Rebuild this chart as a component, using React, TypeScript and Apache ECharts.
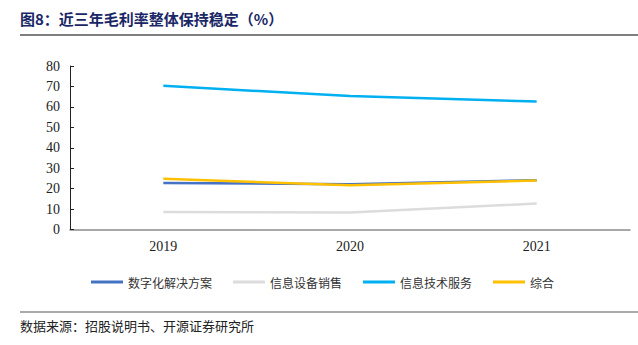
import React, { useEffect, useRef } from "react";
import * as echarts from "echarts";

const categories = ["2019", "2020", "2021"];
const seriesNames = ["数字化解决方案", "信息设备销售", "信息技术服务", "综合"];
const digitalSolutions = [22.8, 22.2, 24.1];
const equipmentSales = [8.6, 8.3, 12.7];
const itServices = [70.3, 65.3, 62.6];
const overall = [24.8, 21.6, 24.0];
const seriesColors = ["#4472C4", "#DCDCDC", "#00B0F0", "#FFC000"];
const yTicks = { min: 0, max: 80, interval: 10 };

const titleText = "图8：近三年毛利率整体保持稳定（%）";
const sourceText = "数据来源：招股说明书、开源证券研究所";

export default function App() {
  const ref = useRef<HTMLDivElement>(null);
  useEffect(() => {
    document.body.style.margin = "0";
    const chart = echarts.init(ref.current!, undefined, { renderer: "svg" });
    const data = [digitalSolutions, equipmentSales, itServices, overall];
    chart.setOption({
      animation: false,
      backgroundColor: "#ffffff",
      grid: { left: 70, right: 8, top: 66, bottom: 115.5, containLabel: false },
      legend: {
        left: 86,
        top: 271,
        itemWidth: 32,
        itemHeight: 3,
        itemGap: 21,
        icon: "rect",
        textStyle: { fontFamily: "Noto Sans CJK SC", fontSize: 12, color: "#333" },
        data: seriesNames,
      },
      xAxis: {
        type: "category",
        data: categories,
        boundaryGap: true,
        axisLine: { lineStyle: { color: "#8c8c8c", width: 1.5 } },
        axisTick: { inside: true, length: 4, lineStyle: { color: "#555" } },
        axisLabel: { fontFamily: "Liberation Serif", fontSize: 14, color: "#222", margin: 10 },
      },
      yAxis: {
        type: "value",
        min: yTicks.min,
        max: yTicks.max,
        interval: yTicks.interval,
        axisLine: { show: true, lineStyle: { color: "#222", width: 1 } },
        axisTick: { show: true, inside: true, length: 4, lineStyle: { color: "#222" } },
        splitLine: { show: false },
        axisLabel: { fontFamily: "Liberation Serif", fontSize: 14, color: "#222", margin: 10 },
      },
      series: seriesNames.map((name, i) => ({
        name,
        type: "line",
        data: data[i],
        symbol: "none",
        smooth: false,
        lineStyle: { color: seriesColors[i], width: 2.5 },
        itemStyle: { color: seriesColors[i] },
        z: i === 3 ? 3 : 2,
      })),
      graphic: [
        {
          type: "text",
          left: 20,
          top: 11,
          style: {
            text: titleText,
            fontFamily: "Noto Sans CJK SC",
            fontWeight: "bold",
            fontSize: 15,
            fill: "#1A2766",
          },
        },
        {
          type: "line",
          shape: { x1: 20, y1: 35, x2: 638, y2: 35 },
          style: { stroke: "#555", lineWidth: 1.5 },
        },
        {
          type: "line",
          shape: { x1: 20, y1: 312, x2: 638, y2: 312 },
          style: { stroke: "#555", lineWidth: 1.2 },
        },
        {
          type: "text",
          left: 20,
          top: 319,
          style: {
            text: sourceText,
            fontFamily: "Noto Sans CJK SC",
            fontSize: 13,
            fill: "#222",
          },
        },
      ],
    });
    return () => chart.dispose();
  }, []);
  return <div ref={ref} style={{ width: 638, height: 345 }} />;
}
